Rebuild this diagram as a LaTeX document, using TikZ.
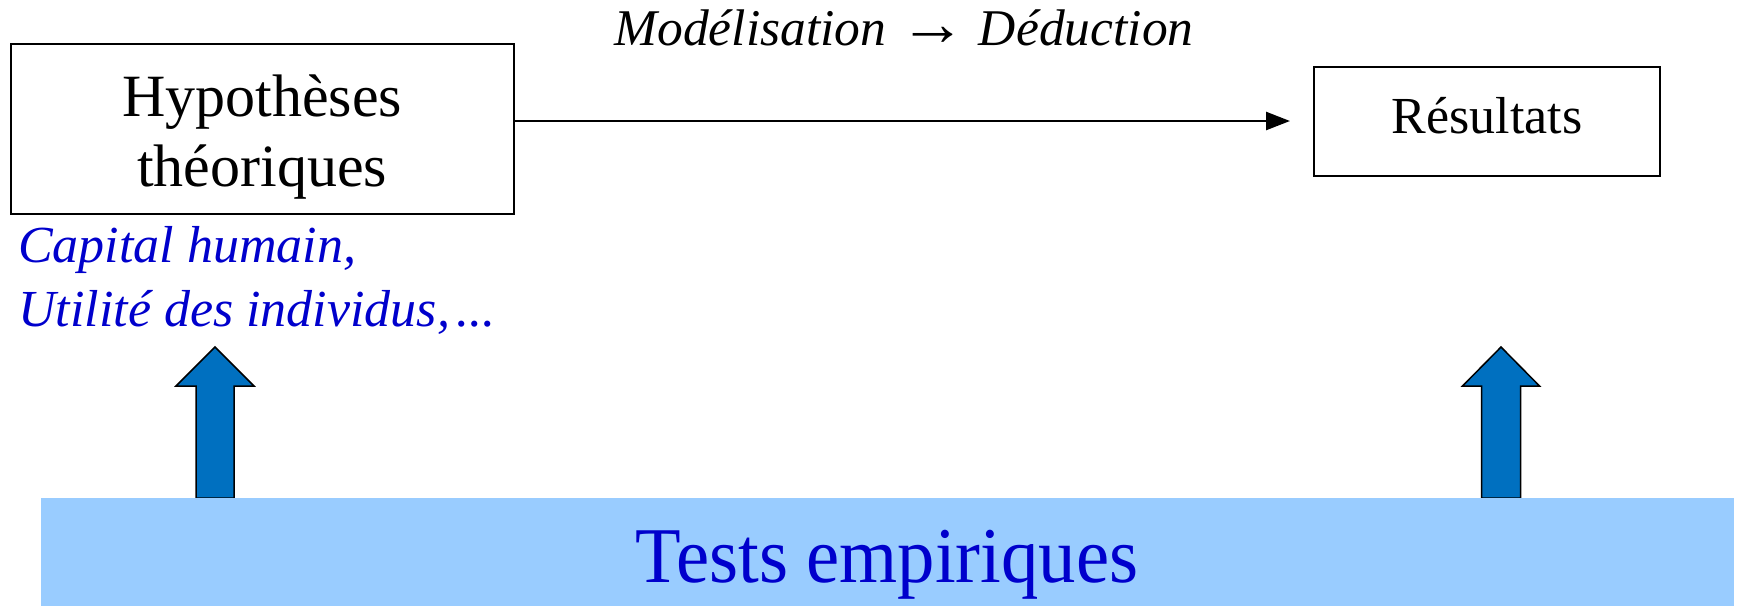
\documentclass[tikz,border=0pt]{standalone}
\usepackage{fontspec}
\setmainfont{Liberation Serif}
\usetikzlibrary{arrows.meta}
\definecolor{txtblue}{RGB}{0,0,204}
\definecolor{panelblue}{RGB}{153,204,255}
\definecolor{arrowblue}{RGB}{0,112,192}
\begin{document}
\begin{tikzpicture}[x=1pt,y=-1pt,
  box/.style={draw=black, line width=2pt, inner sep=0pt},
  blockarrow/.style={fill=arrowblue, draw=black, line width=1.5pt, line join=miter},
  flow/.style={line width=2.5pt, -{Triangle[length=24pt,width=18pt]}}]
\useasboundingbox (0,0) rectangle (1739,606);
% boxes
\node[box, minimum width=503pt, minimum height=170pt] (hyp) at (262.5,129) {};
\node[anchor=base, align=center, inner sep=0pt, font=\fontsize{60}{70}\selectfont] (hyptext) at (262,186) {Hypothèses\\théoriques};
\node[box, minimum width=346pt, minimum height=109pt, text height=35pt, text depth=10pt,
      font=\fontsize{52}{60}\selectfont] (res) at (1487,121) {Résultats};
% top label
\node[anchor=base, inner sep=0pt, font=\fontsize{51.5}{60}\selectfont\itshape] (model) at (904,45) {Modélisation {\upshape\scalebox{1.3}[1.25]{→}} Déduction};
% main arrow
\draw[flow, shorten >=23pt] (hyp.east |- res.west) -- (res.west);
% blue note
\node[anchor=base west, align=left, inner sep=0pt, text=txtblue, font=\fontsize{52}{64}\selectfont\itshape] (capital) at (18,326) {Capital humain,\\Utilité des individus,\kern6pt...};
% block arrows
\coordinate (a1) at (215,498);
\coordinate (a2) at (1501,498);
\draw[blockarrow] (a1) ++(-19,0) -- ++(0,-112) -- ++(-20,0) -- ++(39,-39) -- ++(39,39) -- ++(-20,0) -- ++(0,112) -- cycle;
\draw[blockarrow] (a2) ++(-19.5,0) -- ++(0,-112) -- ++(-19,0) -- ++(38.5,-39) -- ++(38.5,39) -- ++(-19,0) -- ++(0,112) -- cycle;
% panel
\node[fill=panelblue, minimum width=1693pt, minimum height=108pt, inner sep=0pt] (panel) at (887.5,552) {};
\node[anchor=base, inner sep=0pt, text=txtblue, font=\fontsize{79}{90}\selectfont] (tests) at (887,582) {\scalebox{0.945}[1]{Tests empiriques}};
\end{tikzpicture}
\end{document}
